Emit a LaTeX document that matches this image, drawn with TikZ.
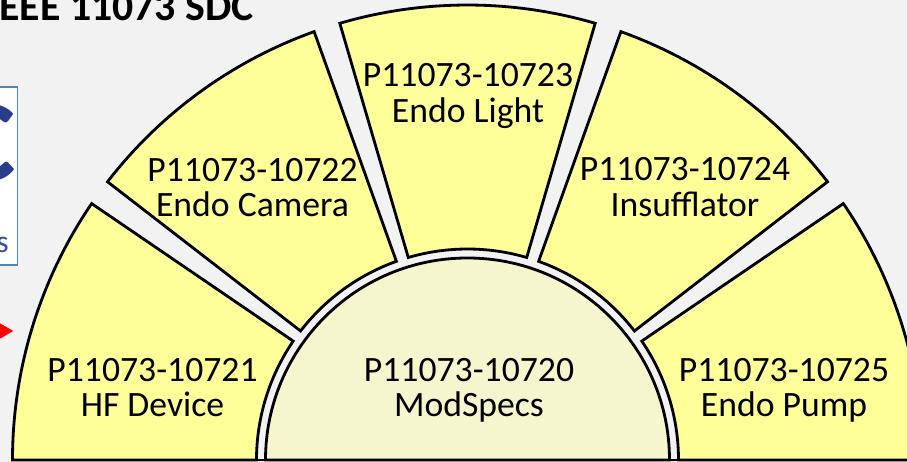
\documentclass[tikz,border=0pt]{standalone}
\usepackage{fontspec}
\setmainfont{Carlito}
\usetikzlibrary{arrows.meta}
\definecolor{fanyellow}{RGB}{255,255,153}
\definecolor{hubyellow}{RGB}{246,246,206}
\definecolor{slidegray}{RGB}{242,242,242}
\definecolor{logoblue}{RGB}{42,60,140}
\definecolor{boxblue}{RGB}{84,130,190}
\definecolor{textblue}{RGB}{47,85,151}

\begin{document}
\begin{tikzpicture}[x=0.02cm,y=0.02cm,
  fan/.style={fill=fanyellow,draw=black,line width=1.6pt,line join=miter},
  hub/.style={fill=hubyellow,draw=black,line width=1.6pt},
  lbl/.style={align=center,inner sep=0pt,font=\fontsize{20.3}{20}\selectfont}]
  % 背景
  \fill[slidegray] (0,0) rectangle (907,462);
  \useasboundingbox (0,0) rectangle (907,462);

  % タイトル
  \node[anchor=base west,inner sep=0pt,font=\fontsize{23.8}{26}\selectfont\bfseries] (title) at (-1,441) {EEE 11073 SDC};

  % ロゴの枠
  \draw[fill=white,draw=boxblue,line width=1pt] (-10,197) rectangle (17.5,375);
  \node[anchor=east,inner sep=0pt,text=logoblue,font=\fontsize{66}{66}\selectfont\bfseries] (logo) at (15.8,319) {C};
  \node[anchor=base east,inner sep=0pt,text=textblue,font=\fontsize{18}{20}\selectfont] (logotext) at (9,209) {s};

  % 赤い矢印
  \coordinate (arrowfrom) at (-40,131);
  \coordinate (arrowto) at (13.5,131);
  \draw[red,line width=4pt,-{Triangle[length=8pt,width=8.5pt]}] (arrowfrom) -- (arrowto);

  \begin{scope}[shift={(467.5,2)}]
    % 中央の半円 (ModSpecs)
    \draw[hub] (0:202) arc[start angle=0,end angle=180,radius=202] -- cycle;

    % HF Device
    \draw[fan] (180:211) -- (180:455) arc[start angle=180,end angle=145.7,radius=455]
      -- (145.7:211) arc[start angle=145.7,end angle=180,radius=211] -- cycle;

    % Endo Camera
    \draw[fan] (109.7:211) -- (109.7:455) arc[start angle=109.7,end angle=142.3,radius=455]
      -- (142.3:211) arc[start angle=142.3,end angle=109.7,radius=211] -- cycle;

    % Endo Light
    \draw[fan] (73.7:211) -- (73.7:455) arc[start angle=73.7,end angle=106.3,radius=455]
      -- (106.3:211) arc[start angle=106.3,end angle=73.7,radius=211] -- cycle;

    % Insufflator
    \draw[fan] (37.7:211) -- (37.7:455) arc[start angle=37.7,end angle=70.3,radius=455]
      -- (70.3:211) arc[start angle=70.3,end angle=37.7,radius=211] -- cycle;

    % Endo Pump
    \draw[fan] (0:211) -- (0:455) arc[start angle=0,end angle=34.3,radius=455]
      -- (34.3:211) arc[start angle=34.3,end angle=0,radius=211] -- cycle;

    % 底辺
    \draw[line width=1.6pt] (180:455) -- (0:455);
  \end{scope}

  % ラベル
  \node[lbl] (modspecs) at (469,72) {P11073-10720\\ModSpecs};
  \node[lbl] (hfdevice) at (152.5,74.5) {P11073-10721\\HF Device};
  \node[lbl] (camera) at (252.5,274.5) {P11073-10722\\Endo Camera};
  \node[lbl] (light) at (468,366) {P11073-10723\\Endo Light};
  \node[lbl] (insufflator) at (685,275) {P11073-10724\\Insufflator};
  \node[lbl] (pump) at (784,71.3) {P11073-10725\\Endo Pump};
\end{tikzpicture}
\end{document}
